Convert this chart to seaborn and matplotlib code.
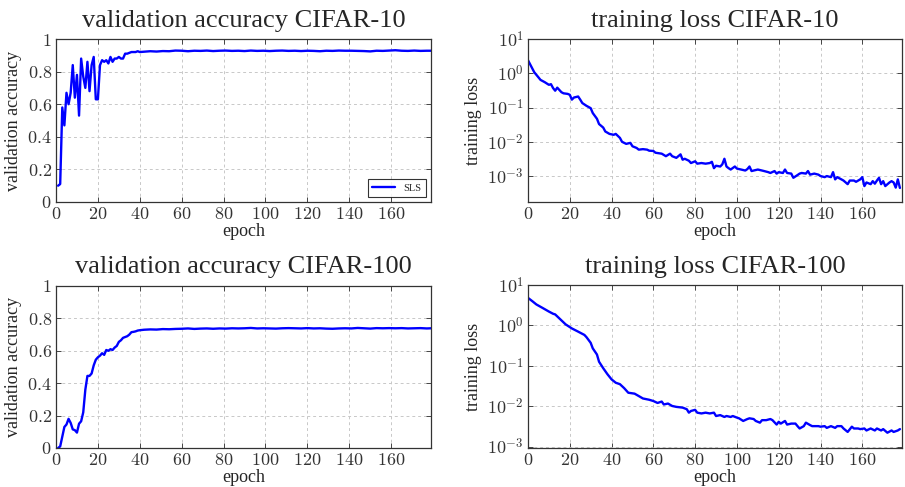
import matplotlib
matplotlib.use("Agg")
import matplotlib.pyplot as plt
import matplotlib.ticker as mticker
import numpy as np
import seaborn as sns

# validation accuracy, CIFAR-10 (epoch 1..40 every epoch, then every 3rd epoch)
acc10_epochs = list(range(1, 41)) + list(range(42, 178, 3)) + [179]
acc10_values = [
    0.10, 0.11, 0.58, 0.47, 0.67, 0.60, 0.67, 0.84, 0.64, 0.78,
    0.53, 0.88, 0.77, 0.70, 0.86, 0.68, 0.84, 0.89, 0.63, 0.63,
    0.84, 0.87, 0.86, 0.87, 0.85, 0.89, 0.86, 0.88, 0.88, 0.89,
    0.88, 0.88, 0.91, 0.91, 0.915, 0.92, 0.92, 0.92, 0.925, 0.92,
    0.922, 0.925, 0.923, 0.926, 0.925, 0.929, 0.928, 0.925, 0.928, 0.927,
    0.929, 0.926, 0.928, 0.929, 0.927, 0.928, 0.926, 0.929, 0.927, 0.928,
    0.926, 0.928, 0.929, 0.927, 0.928, 0.926, 0.928, 0.927, 0.925, 0.928,
    0.927, 0.929, 0.928, 0.928, 0.927, 0.926, 0.924, 0.928, 0.927, 0.929,
    0.931, 0.928, 0.927, 0.929, 0.927, 0.928, 0.928,
]

# validation accuracy, CIFAR-100
acc100_epochs = list(range(1, 41)) + list(range(42, 178, 3)) + [179]
acc100_values = [
    0.00, 0.01, 0.07, 0.13, 0.145, 0.18, 0.155, 0.115, 0.11, 0.095,
    0.15, 0.165, 0.22, 0.36, 0.445, 0.445, 0.46, 0.51, 0.545, 0.56,
    0.57, 0.585, 0.575, 0.605, 0.60, 0.61, 0.605, 0.62, 0.63, 0.655,
    0.665, 0.68, 0.685, 0.69, 0.70, 0.715, 0.717, 0.72, 0.725, 0.727,
    0.730, 0.732, 0.731, 0.734, 0.733, 0.735, 0.736, 0.738, 0.735, 0.737,
    0.738, 0.736, 0.738, 0.737, 0.739, 0.738, 0.739, 0.741, 0.738, 0.739,
    0.738, 0.737, 0.739, 0.740, 0.739, 0.738, 0.740, 0.738, 0.739, 0.737,
    0.736, 0.738, 0.739, 0.738, 0.741, 0.739, 0.737, 0.740, 0.739, 0.740,
    0.739, 0.740, 0.738, 0.739, 0.740, 0.738, 0.739,
]

# training loss, CIFAR-10
loss10_epochs = [
    0, 2, 3, 5, 6, 8, 10, 11, 12, 13,
    14, 16, 17, 19, 20, 21, 22, 24, 25, 26,
    28, 30, 31, 33, 34, 36, 37, 39, 41, 42,
    44, 45, 47, 49, 50, 52, 53, 55, 57, 58,
    60, 61, 64, 66, 68, 69, 71, 73, 74, 75,
    77, 78, 80, 81, 83, 85, 87, 88, 89, 90,
    92, 93, 94, 95, 96, 97, 99, 100, 102, 104,
    105, 106, 107, 108, 110, 112, 113, 115, 116, 118,
    119, 120, 122, 123, 124, 126, 127, 129, 130, 131,
    133, 134, 135, 137, 139, 140, 142, 143, 145, 146,
    147, 148, 150, 151, 153, 154, 156, 157, 159, 160,
    161, 162, 164, 165, 166, 167, 168, 169, 170, 171,
    173, 174, 175, 176, 177, 178,
]
loss10_values = [
    2.4, 1.4, 1.07, 0.76, 0.64, 0.55, 0.46, 0.48, 0.37, 0.31,
    0.38, 0.28, 0.26, 0.25, 0.235, 0.17, 0.196, 0.21, 0.17, 0.135,
    0.112, 0.096, 0.069, 0.047, 0.033, 0.026, 0.020, 0.017, 0.016, 0.017,
    0.013, 0.010, 0.0087, 0.0093, 0.0074, 0.0066, 0.0059, 0.0061, 0.0059, 0.0055,
    0.0054, 0.0048, 0.0045, 0.0038, 0.0045, 0.0038, 0.0034, 0.0043, 0.0030, 0.0032,
    0.0028, 0.0024, 0.0027, 0.0023, 0.0024, 0.0023, 0.0024, 0.0026, 0.0017, 0.0020,
    0.0019, 0.0022, 0.0032, 0.0019, 0.0017, 0.00155, 0.0019, 0.00165, 0.00155, 0.00145,
    0.0016, 0.0019, 0.0014, 0.00145, 0.00155, 0.00145, 0.0014, 0.0013, 0.00123, 0.0014,
    0.00118, 0.0013, 0.00123, 0.00155, 0.00123, 0.00118, 0.00089, 0.00107, 0.00118, 0.00123,
    0.00118, 0.0014, 0.0011, 0.00118, 0.0011, 0.0010, 0.00093, 0.0010, 0.00093, 0.0013,
    0.0008, 0.00093, 0.0008, 0.00074, 0.00058, 0.00074, 0.00074, 0.00068, 0.0008, 0.00093,
    0.00051, 0.00065, 0.00058, 0.00071, 0.0006, 0.00074, 0.00089, 0.00058, 0.00071, 0.00051,
    0.00065, 0.00071, 0.00065, 0.00046, 0.0008, 0.00045,
]

# training loss, CIFAR-100
loss100_epochs = [
    0, 2, 4, 7, 10, 12, 13, 16, 18, 21,
    24, 27, 28, 30, 31, 33, 34, 36, 38, 40,
    42, 44, 46, 48, 51, 53, 55, 58, 60, 62,
    64, 65, 67, 69, 71, 74, 76, 77, 78, 80,
    81, 83, 85, 87, 89, 90, 92, 94, 95, 97,
    98, 100, 101, 103, 105, 106, 108, 109, 111, 112,
    114, 116, 117, 119, 120, 121, 123, 124, 126, 128,
    129, 130, 132, 133, 135, 136, 139, 140, 142, 143,
    145, 147, 148, 150, 151, 153, 155, 156, 158, 159,
    161, 162, 164, 166, 167, 169, 170, 172, 174, 175,
    177, 178,
]
loss100_values = [
    4.8, 4.0, 3.3, 2.7, 2.2, 1.94, 1.87, 1.33, 1.06, 0.84,
    0.70, 0.58, 0.51, 0.37, 0.27, 0.19, 0.126, 0.087, 0.062, 0.046,
    0.038, 0.035, 0.028, 0.0215, 0.0204, 0.0178, 0.0155, 0.0144, 0.0134, 0.012,
    0.013, 0.011, 0.0116, 0.0101, 0.0096, 0.0092, 0.0084, 0.0069, 0.0076, 0.0081,
    0.0069, 0.0066, 0.0069, 0.0066, 0.0069, 0.0057, 0.006, 0.0054, 0.0057, 0.0054,
    0.0057, 0.0052, 0.005, 0.0043, 0.0048, 0.005, 0.0048, 0.0043, 0.0039, 0.0045,
    0.0045, 0.0048, 0.0045, 0.0035, 0.0041, 0.0037, 0.0043, 0.0035, 0.0037, 0.0037,
    0.0032, 0.0028, 0.0032, 0.0039, 0.0034, 0.0032, 0.0032, 0.0031, 0.0032, 0.0029,
    0.0032, 0.0029, 0.0032, 0.0032, 0.0028, 0.0023, 0.0031, 0.0028, 0.0028, 0.0027,
    0.0028, 0.0025, 0.0028, 0.0025, 0.0028, 0.0025, 0.0027, 0.0022, 0.0025, 0.0023,
    0.0025, 0.0027,
]

sns.set_theme(style="ticks")
plt.rcParams['font.family'] = ['Liberation Serif', 'DejaVu Serif']
plt.rcParams['mathtext.fontset'] = 'cm'

W, H = 905, 487
fig = plt.figure(figsize=(W / 100, H / 100), dpi=100)


def px_axes(left, top, right, bottom):
    # place an axes box using pixel edges of the reference picture
    return fig.add_axes([left / W, 1 - bottom / H, (right - left) / W, (bottom - top) / H])


panels = [
    (px_axes(56, 39, 431, 202), acc10_epochs, acc10_values,
     "validation accuracy CIFAR-10", "validation accuracy", False),
    (px_axes(528, 39, 902, 202), loss10_epochs, loss10_values,
     "training loss CIFAR-10", "training loss", True),
    (px_axes(56, 286, 431, 448), acc100_epochs, acc100_values,
     "validation accuracy CIFAR-100", "validation accuracy", False),
    (px_axes(528, 285, 902, 448), loss100_epochs, loss100_values,
     "training loss CIFAR-100", "training loss", True),
]

math_fmt = mticker.FuncFormatter(lambda v, pos: f"${v:g}$")
pow_fmt = mticker.FuncFormatter(lambda v, pos: f"$10^{{{int(round(np.log10(v)))}}}$")

for i, (ax, xs, ys, title, ylabel, is_log) in enumerate(panels):
    sns.lineplot(x=xs, y=ys, ax=ax, color="#0000ff", linewidth=1.7,
                 label="SLS" if i == 0 else None, legend=(i == 0))

    ax.set_xlim(0, 179)
    ax.set_xticks(range(0, 161, 20))
    ax.xaxis.set_major_formatter(math_fmt)

    if is_log:
        ax.set_yscale("log")
        if i == 1:
            ax.set_ylim(1.75e-4, 10)
        else:
            ax.set_ylim(9.2e-4, 10)
        ax.set_yticks([1e-3, 1e-2, 1e-1, 1e0, 1e1])
        ax.yaxis.set_major_formatter(pow_fmt)
        ax.yaxis.set_minor_locator(mticker.LogLocator(base=10, subs=np.arange(2, 10)))
        ax.yaxis.set_minor_formatter(mticker.NullFormatter())
    else:
        ax.set_ylim(0, 1)
        ax.set_yticks(np.arange(0, 1.01, 0.2))
        ax.yaxis.set_major_formatter(math_fmt)

    ax.grid(True, which="major", linestyle=(0, (3, 3)), color="#c8c8c8", linewidth=0.7)
    ax.tick_params(which="both", direction="in", top=True, right=True,
                   labelsize=13, labelcolor="#333333", color="#444444", pad=3)
    ax.tick_params(which="major", length=3.5, width=0.7)
    ax.tick_params(which="minor", length=2, width=0.5)
    for sp in ax.spines.values():
        sp.set_color("#333333")
        sp.set_linewidth(0.9)

    ax.set_title(title, fontsize=19, pad=9)
    ax.set_xlabel("epoch", fontsize=13, labelpad=0)
    ax.set_ylabel(ylabel, fontsize=13, labelpad=4)

    if i == 0:
        leg = ax.legend(loc="lower right", fontsize=7.5, frameon=True, fancybox=False,
                        edgecolor="black", handlelength=2.2, borderaxespad=0.5,
                        borderpad=0.4)
        leg.get_frame().set_linewidth(0.8)

fig.savefig("out.png", dpi=100)
